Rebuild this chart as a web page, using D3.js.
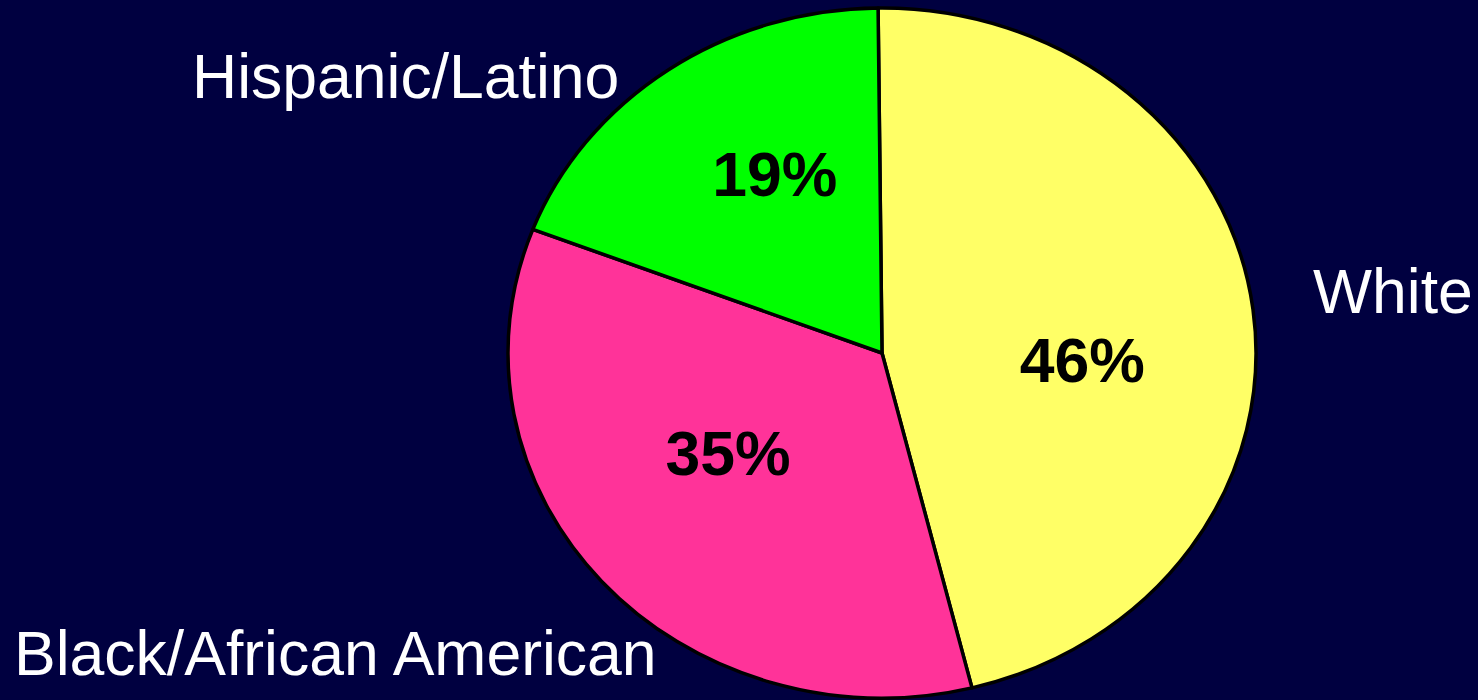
<!DOCTYPE html>
<html>
<head>
<meta charset="utf-8">
<script src="https://cdn.jsdelivr.net/npm/d3@7"></script>
<style>
  html, body { margin: 0; padding: 0; background: #000040; }
  svg { display: block; }
</style>
</head>
<body>
<div id="chart"></div>
<script>
// Data (slice sizes, labels rounded)
const categories = ["White", "Black/African American", "Hispanic/Latino"];
const shares = [46.3, 34.7, 19.0];
const sliceColors = ["#ffff66", "#ff3399", "#00ff00"];

// Layout
const width = 1478, height = 700;
const cx = 882, cy = 353, radius = 374, squash = 345 / 374;
const pctRadius = 200;
// nudges for the % labels, relative to the centroid
const pctNudge = [[2, 30], [-4, -23], [7, -28]];
// outside category labels
const catLabels = [
  { x: 1313, y: 313, anchor: "start" },
  { x: 14, y: 675, anchor: "start" },
  { x: 192, y: 98, anchor: "start" }
];

const svg = d3.select("#chart").append("svg")
    .attr("width", width)
    .attr("height", height);

svg.append("rect")
    .attr("width", width)
    .attr("height", height)
    .attr("fill", "#000040");

const pie = d3.pie()
    .sort(null)
    .startAngle(-0.6 * Math.PI / 180)
    .endAngle(2 * Math.PI - 0.6 * Math.PI / 180);

const arcs = pie(shares);

const arc = d3.arc()
    .innerRadius(0)
    .outerRadius(radius);

const g = svg.append("g")
    .attr("transform", "translate(" + cx + "," + cy + ") scale(1," + squash + ")");

g.selectAll("path")
    .data(arcs)
    .enter().append("path")
    .attr("d", arc)
    .attr("fill", function (d, i) { return sliceColors[i]; })
    .attr("stroke", "#000")
    .attr("stroke-width", 3.5)
    .attr("stroke-linejoin", "round")
    .attr("vector-effect", "non-scaling-stroke");

// percentage labels
const labelArc = d3.arc().innerRadius(pctRadius).outerRadius(pctRadius);

svg.selectAll(".pct")
    .data(arcs)
    .enter().append("text")
    .attr("class", "pct")
    .attr("x", function (d, i) { return cx + labelArc.centroid(d)[0] + pctNudge[i][0]; })
    .attr("y", function (d, i) { return cy + labelArc.centroid(d)[1] * squash + pctNudge[i][1]; })
    .attr("dy", "0.36em")
    .attr("text-anchor", "middle")
    .style("font-family", "'Liberation Sans', Arial, sans-serif")
    .style("font-weight", "bold")
    .style("font-size", "62.5px")
    .attr("fill", "#000")
    .text(function (d) { return Math.round(d.data) + "%"; });

// category labels
svg.selectAll(".cat")
    .data(categories)
    .enter().append("text")
    .attr("class", "cat")
    .attr("x", function (d, i) { return catLabels[i].x; })
    .attr("y", function (d, i) { return catLabels[i].y; })
    .attr("text-anchor", function (d, i) { return catLabels[i].anchor; })
    .style("font-family", "'Liberation Sans', Arial, sans-serif")
    .style("font-size", "62.5px")
    .attr("fill", "#fff")
    .text(function (d) { return d; });
</script>
</body>
</html>
